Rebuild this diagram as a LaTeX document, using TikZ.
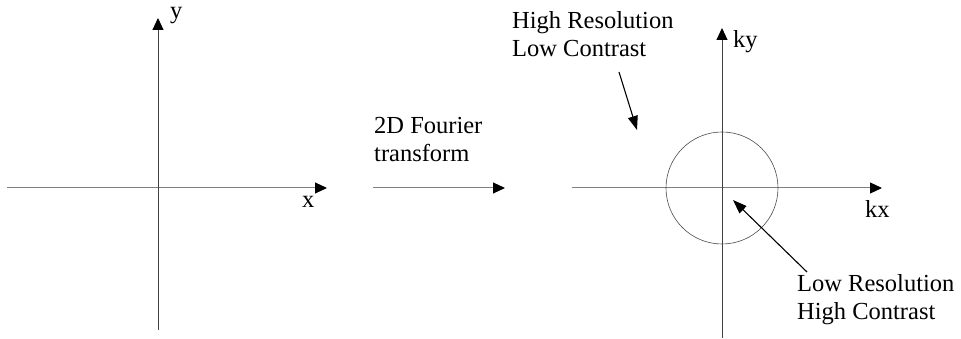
\documentclass[tikz,border=0pt]{standalone}
\usepackage{fontspec}
\setmainfont{Liberation Serif}
\usetikzlibrary{arrows.meta}
\begin{document}
\begin{tikzpicture}[x=1pt,y=1pt,
  lbl/.style={inner sep=0pt,anchor=base west,align=left,font=\fontsize{24.5}{28.5}\selectfont},
  haxis/.style={draw=black!50,line width=1pt,-{Triangle[length=12pt,width=11pt,color=black]}},
  vaxis/.style={draw=black!75,line width=1pt,-{Triangle[length=12pt,width=11pt,color=black]}},
  pointer/.style={draw=black,line width=1.1pt,-{Triangle[length=14pt,width=10pt]}},
  ring/.style={draw=black!70,line width=0.6pt}]
\useasboundingbox (0,0) rectangle (961,339);
% left axes
\coordinate (lxs) at (7,151);
\coordinate (lxe) at (327,151);
\coordinate (lys) at (158,9);
\coordinate (lye) at (158,321);
\draw[haxis] (lxs) -- (lxe);
\draw[vaxis] (lys) -- (lye);
\node[lbl] (ylab) at (170,320) {y};
\node[lbl] (xlab) at (302,131) {x};
% transform arrow
\coordinate (ms) at (373,151);
\coordinate (me) at (505,151);
\draw[haxis] (ms) -- (me);
\node[lbl] (ft) at (374,177) {2D Fourier\\transform};
% right axes
\coordinate (rxs) at (572,151);
\coordinate (rxe) at (882,151);
\coordinate (rys) at (722,1);
\coordinate (rye) at (722,311);
\coordinate (c) at (722,151);
\draw[haxis] (rxs) -- (rxe);
\draw[vaxis] (rys) -- (rye);
\draw[ring] (c) circle[radius=56];
\node[lbl] (kylab) at (733,291) {ky};
\node[lbl] (kxlab) at (865,121) {kx};
% annotations
\node[lbl] (hr) at (512,282) {High Resolution\\Low Contrast};
\coordinate (hrs) at (619,267);
\coordinate (hre) at (637,209);
\draw[pointer] (hrs) -- (hre);
\node[lbl] (lr) at (797,19) {Low Resolution\\High Contrast};
\coordinate (lrs) at (807,67);
\coordinate (lre) at (733,139);
\draw[pointer] (lrs) -- (lre);
\end{tikzpicture}
\end{document}
